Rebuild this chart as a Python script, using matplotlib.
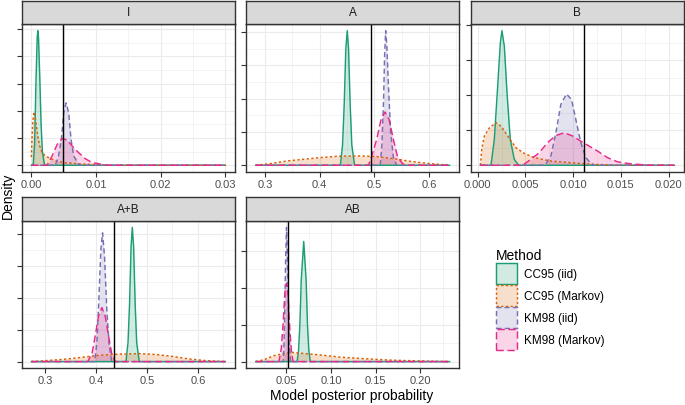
import matplotlib
matplotlib.use("Agg")
import matplotlib.pyplot as plt
from matplotlib.patches import Patch

plt.rcParams['font.family'] = ['Liberation Sans', 'DejaVu Sans']

methods = ["CC95 (iid)", "CC95 (Markov)", "KM98 (iid)", "KM98 (Markov)"]
colors = ["#1B9E77", "#D95F02", "#7570B3", "#E7298A"]
styles = ["-", (0, (1.6, 1.6)), (0, (3.5, 2.2)), (0, (5, 2.5))]

# panel I  (density, y in tick units)
i_cc95_iid = ([0.0, 0.0003, 0.0005, 0.0007, 0.0009, 0.001, 0.0011, 0.0013, 0.0015, 0.0017, 0.002, 0.0022, 0.03],
              [0, 0.05, 0.8, 3.0, 4.7, 4.94, 4.7, 3.2, 1.5, 0.5, 0.05, 0, 0])
i_cc95_markov = ([0.0, 0.0001, 0.0002, 0.0004, 0.0006, 0.0008, 0.001, 0.0013, 0.0016, 0.002, 0.0025, 0.003, 0.004, 0.005, 0.007, 0.009, 0.012, 0.03],
                 [0.3, 1.0, 1.6, 1.96, 1.75, 1.4, 1.05, 0.7, 0.5, 0.38, 0.3, 0.24, 0.15, 0.1, 0.06, 0.03, 0, 0])
i_km98_iid = ([0.0, 0.0037, 0.0042, 0.00464, 0.005, 0.00536, 0.00577, 0.00613, 0.00655, 0.00732, 0.0076, 0.03],
              [0, 0, 0.34, 0.95, 1.93, 2.29, 1.93, 0.95, 0.34, 0.04, 0, 0])
i_km98_markov = ([0.0, 0.00242, 0.0032, 0.004, 0.00474, 0.00552, 0.00629, 0.00732, 0.00835, 0.00938, 0.01015, 0.01119, 0.01222, 0.03],
                 [0, 0, 0.34, 0.77, 0.98, 0.93, 0.71, 0.46, 0.24, 0.1, 0.07, 0.02, 0, 0])

# panel A
a_cc95_iid = ([0.283, 0.438, 0.442, 0.445, 0.448, 0.4506, 0.453, 0.456, 0.459, 0.464, 0.638],
              [0, 0, 0.6, 1.8, 3.5, 4.04, 3.5, 1.8, 0.6, 0, 0])
a_cc95_markov = ([0.283, 0.3103, 0.3407, 0.371, 0.4014, 0.4318, 0.4743, 0.5046, 0.535, 0.5653, 0.5957, 0.638],
                 [0, 0.05, 0.13, 0.18, 0.23, 0.27, 0.28, 0.26, 0.2, 0.12, 0.06, 0])
a_km98_iid = ([0.283, 0.511, 0.514, 0.517, 0.519, 0.521, 0.523, 0.526, 0.53, 0.535, 0.541, 0.638],
              [0, 0, 0.6, 1.9, 3.3, 4.04, 3.6, 2.4, 1.0, 0.25, 0, 0])
a_km98_markov = ([0.283, 0.4894, 0.4955, 0.5046, 0.5125, 0.5198, 0.5271, 0.535, 0.5423, 0.5501, 0.5562, 0.638],
                 [0, 0, 0.28, 0.78, 1.38, 1.6, 1.38, 0.78, 0.28, 0.08, 0, 0])

# panel B
b_cc95_iid = ([0.00028, 0.00139, 0.00174, 0.00209, 0.00237, 0.00254, 0.00279, 0.00307, 0.00341, 0.00383, 0.00429, 0.0206],
              [0, 0, 0.74, 2.26, 3.5, 3.85, 3.4, 2.07, 0.74, 0.17, 0, 0])
b_cc95_markov = ([0.00028, 0.00042, 0.0007, 0.00122, 0.00192, 0.00244, 0.00314, 0.00401, 0.00488, 0.00592, 0.00767, 0.00941, 0.01185, 0.01463, 0.0206],
                 [0, 0.46, 0.84, 1.07, 1.22, 1.12, 0.84, 0.5, 0.34, 0.22, 0.12, 0.08, 0.03, 0, 0])
b_km98_iid = ([0.00028, 0.00707, 0.00767, 0.00819, 0.00871, 0.0093, 0.00983, 0.01028, 0.0108, 0.01132, 0.01185, 0.0122, 0.0206],
              [0, 0, 0.27, 0.93, 1.74, 2.04, 1.88, 1.31, 0.65, 0.22, 0.06, 0, 0])
b_km98_markov = ([0.00028, 0.0047, 0.00557, 0.00645, 0.00732, 0.00819, 0.00906, 0.00993, 0.0108, 0.01167, 0.01254, 0.01359, 0.01463, 0.01603, 0.01812, 0.0206],
                 [0, 0, 0.17, 0.36, 0.65, 0.85, 0.93, 0.84, 0.69, 0.55, 0.41, 0.22, 0.1, 0.04, 0, 0])

# panel A+B
ab_cc95_iid = ([0.2734, 0.459, 0.463, 0.466, 0.469, 0.4714, 0.474, 0.477, 0.48, 0.485, 0.6539],
               [0, 0, 0.6, 1.8, 3.6, 4.2, 3.6, 1.8, 0.6, 0, 0])
ab_cc95_markov = ([0.2734, 0.311, 0.3435, 0.376, 0.4084, 0.4409, 0.4864, 0.5188, 0.5513, 0.5838, 0.6162, 0.6539],
                  [0, 0.04, 0.08, 0.14, 0.2, 0.23, 0.25, 0.22, 0.16, 0.08, 0.03, 0])
ab_km98_iid = ([0.2734, 0.3974, 0.402, 0.4058, 0.4097, 0.413, 0.4169, 0.4214, 0.426, 0.4312, 0.6539],
               [0, 0, 0.6, 1.95, 3.5, 4.03, 3.3, 1.64, 0.5, 0, 0])
ab_km98_markov = ([0.2734, 0.3838, 0.3922, 0.3987, 0.4052, 0.4117, 0.4182, 0.4247, 0.4312, 0.4377, 0.6539],
                  [0, 0, 0.24, 0.81, 1.43, 1.69, 1.43, 0.81, 0.24, 0, 0])

# panel AB
abi_cc95_iid = ([0.0155, 0.0619, 0.0635, 0.065, 0.0665, 0.0693, 0.072, 0.0735, 0.075, 0.0767, 0.2327],
                [0, 0, 0.3, 1.0, 2.2, 3.26, 2.2, 1.0, 0.3, 0, 0])
abi_cc95_markov = ([0.0155, 0.0248, 0.0359, 0.047, 0.0563, 0.0693, 0.0879, 0.1102, 0.1361, 0.1659, 0.1956, 0.2327],
                   [0, 0.05, 0.16, 0.22, 0.25, 0.22, 0.18, 0.12, 0.08, 0.04, 0.02, 0])
abi_km98_iid = ([0.0155, 0.0463, 0.0472, 0.048, 0.0489, 0.05, 0.051, 0.052, 0.053, 0.0545, 0.2327],
                [0, 0, 0.4, 1.3, 2.66, 3.64, 2.9, 1.6, 0.6, 0, 0])
abi_km98_markov = ([0.0155, 0.0415, 0.0441, 0.0463, 0.0481, 0.05, 0.0519, 0.0537, 0.0556, 0.0574, 0.2327],
                   [0, 0, 0.34, 1.05, 1.86, 2.125, 1.77, 0.88, 0.25, 0, 0])

panel_names = ["I", "A", "B", "A+B", "AB"]
true_values = [0.00494, 0.4937, 0.01118, 0.4357, 0.0515]
x_ticks = [[0.0, 0.01, 0.02, 0.03], [0.3, 0.4, 0.5, 0.6], [0.0, 0.005, 0.01, 0.015, 0.02],
           [0.3, 0.4, 0.5, 0.6], [0.05, 0.10, 0.15, 0.20]]
x_tick_labels = [["0.00", "0.01", "0.02", "0.03"], ["0.3", "0.4", "0.5", "0.6"],
                 ["0.000", "0.005", "0.010", "0.015", "0.020"], ["0.3", "0.4", "0.5", "0.6"],
                 ["0.05", "0.10", "0.15", "0.20"]]
curves = [[i_cc95_iid, i_cc95_markov, i_km98_iid, i_km98_markov],
          [a_cc95_iid, a_cc95_markov, a_km98_iid, a_km98_markov],
          [b_cc95_iid, b_cc95_markov, b_km98_iid, b_km98_markov],
          [ab_cc95_iid, ab_cc95_markov, ab_km98_iid, ab_km98_markov],
          [abi_cc95_iid, abi_cc95_markov, abi_km98_iid, abi_km98_markov]]

W, H = 685, 406
fig = plt.figure(figsize=(W / 100, H / 100), dpi=100)

def rect(x0, x1, y0, y1):
    return [x0 / W, 1 - y1 / H, (x1 - x0) / W, (y1 - y0) / H]

cols = [(21.7, 235.0), (246.0, 459.3), (470.7, 684.0)]
rows = [((2.0, 25.0), (25.0, 173.0)), ((198.3, 221.7), (221.7, 369.3))]
slots = [(0, 0), (0, 1), (0, 2), (1, 0), (1, 1)]
border = "#333333"

for k in range(5):
    r, c = slots[k]
    (s0, s1), (p0, p1) = rows[r]
    x0, x1 = cols[c]
    ax = fig.add_axes(rect(x0, x1, p0, p1))
    # limits like ggplot: 5% expansion
    xs = [v for cv in curves[k] for v in cv[0]]
    ys = [v for cv in curves[k] for v in cv[1]]
    lo, hi = min(xs), max(xs)
    ax.set_xlim(lo - 0.05 * (hi - lo), hi + 0.05 * (hi - lo))
    ymax = max(ys)
    ax.set_ylim(-0.05 * ymax, 1.05 * ymax)

    # grid (major + minor)
    xt = x_ticks[k]
    step = xt[1] - xt[0]
    xmin_ = [xt[0] - step / 2] + [t + step / 2 for t in xt]
    xl = ax.get_xlim()
    for t in xt:
        ax.axvline(t, color="#EBEBEB", lw=0.8, zorder=0)
    for t in xmin_:
        if xl[0] < t < xl[1]:
            ax.axvline(t, color="#EBEBEB", lw=0.4, zorder=0)
    n_y = int(ymax * 1.05) + 1
    yt = list(range(n_y))
    for t in yt:
        ax.axhline(t, color="#EBEBEB", lw=0.8, zorder=0)
    for t in yt:
        if t + 0.5 < ymax * 1.05:
            ax.axhline(t + 0.5, color="#EBEBEB", lw=0.4, zorder=0)

    for j, (cx, cy) in enumerate(curves[k]):
        ax.fill_between(cx, 0, cy, color=colors[j], alpha=0.2, lw=0, zorder=2)
        ax.plot(cx, cy, color=colors[j], lw=1.05, linestyle=styles[j], zorder=3)
    ax.axvline(true_values[k], color="black", lw=1.0, zorder=4)

    ax.set_xticks(xt)
    ax.set_xticklabels(x_tick_labels[k])
    ax.set_yticks(yt)
    ax.set_yticklabels([])
    ax.tick_params(colors=border, labelcolor="#4D4D4D", labelsize=8, length=3.5, width=0.8, pad=1.5)
    for sp in ax.spines.values():
        sp.set_color(border)
        sp.set_linewidth(1.0)

    sax = fig.add_axes(rect(x0, x1, s0, s1))
    sax.set_facecolor("#D9D9D9")
    sax.set_xticks([])
    sax.set_yticks([])
    for sp in sax.spines.values():
        sp.set_color(border)
        sp.set_linewidth(1.0)
    sax.text(0.5, 0.5, panel_names[k], ha="center", va="center", fontsize=8.5, color="#1A1A1A",
             transform=sax.transAxes)

fig.text(352 / W, 1 - 396.5 / H, "Model posterior probability", ha="center", va="center", fontsize=10)
fig.text(8 / W, 1 - 196 / H, "Density", ha="center", va="center", rotation=90, fontsize=10)

handles = []
for j in range(4):
    handles.append(Patch(facecolor=matplotlib.colors.to_rgba(colors[j], 0.2), edgecolor=colors[j],
                         linestyle=styles[j], lw=1.05))
leg = fig.legend(handles, methods, loc="upper left", bbox_to_anchor=(496 / W, 1 - 249 / H),
                 frameon=False, title="Method", fontsize=8.5, title_fontsize=10,
                 handlelength=1.78, handleheight=2.36, labelspacing=0.08, handletextpad=0.62,
                 borderpad=0, borderaxespad=0, alignment="left")

fig.savefig("out.png", dpi=100)
